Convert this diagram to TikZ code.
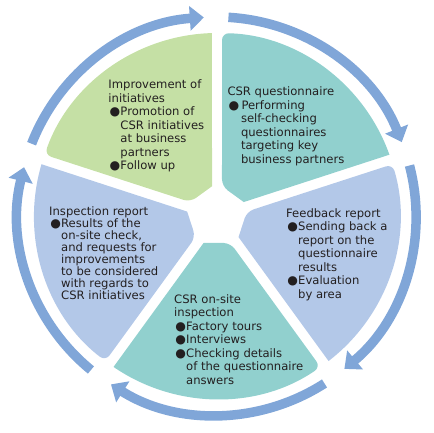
\documentclass[tikz,border=0pt]{standalone}
\usepackage{fontspec}
\setmainfont{DejaVu Sans}
\usepackage{xcolor}
\usepackage{graphicx}
\usepackage{tikz}
\usetikzlibrary{arrows.meta}
\definecolor{cycgreen}{HTML}{C5E0A5}
\definecolor{cycteal}{HTML}{91D0CE}
\definecolor{cycblue}{HTML}{B3C8E8}
\definecolor{cycarrow}{HTML}{80A6D8}
\definecolor{cyctext}{HTML}{231F20}
\newcommand{\bul}{\hspace*{2pt}\makebox[9pt][c]{\scalebox{1.05}{●}}\hspace*{1pt}}
\newcommand{\ind}{\hspace*{12pt}}

\begin{document}
\begin{tikzpicture}[x=1pt,y=1pt,
 steptext/.style={anchor=base west,inner sep=0pt,align=left,text=cyctext,
  font=\fontsize{11.6}{13.5}\selectfont},
 ringarrow/.style={cycarrow,line width=9.5pt,-{Triangle[width=24pt,length=14pt]}}]
\useasboundingbox (-217,-217) rectangle (216,216);
% five sectors, gap of 10pt between them, blunt inner ends
\foreach \ang/\col in {126/cycgreen,54/cycteal,-18/cycblue,-90/cycteal,198/cycblue}
 \fill[\col,rotate=\ang] (27,0) [rounded corners=7pt] -- (27,13.44) -- (34.43:183)
  [sharp corners] arc[start angle=34.43,end angle=-34.43,radius=183pt]
  -- (27,-13.44) [rounded corners=7pt] -- cycle;
% outer ring of arrows, clockwise
\foreach \a [evaluate=\a as \s using 158.7-\a, evaluate=\a as \e using 93.8-\a] in {0,72,144,216,288}
 \draw[ringarrow] (\s:199) arc[start angle=\s,end angle=\e,radius=199pt];
% base anchor of a multi-line node is its last line
\node[steptext] (improve) at (-108.7,46) {Improvement of\\
 initiatives\\
 \bul Promotion of\\
 \ind CSR initiatives\\
 \ind at business\\
 \ind partners\\
 \bul Follow up};
\node[steptext] (quest) at (10.3,52.7) {CSR questionnaire\\
 \bul\hspace*{2pt}Performing\\
 \ind\hspace*{1.5pt}self-checking\\
 \ind\hspace*{1.5pt}questionnaires\\
 \ind\hspace*{1.5pt}targeting key\\
 \ind\hspace*{1.5pt}business partners};
\node[steptext] (feedback) at (69,-82.3) {Feedback report\\
 \bul Sending back a\\
 \ind report on the\\
 \ind questionnaire\\
 \ind results\\
 \bul Evaluation\\
 \ind by area};
\node[steptext] (onsite) at (-43,-168) {CSR on-site\\
 inspection\\
 \bul Factory tours\\
 \bul Interviews\\
 \bul Checking details\\
 \ind of the questionnaire\\
 \ind answers};
\node[steptext,font=\fontsize{11.6}{12}\selectfont] (inspect) at (-168,-83) {Inspection report\\
 \bul Results of the\\
 \ind on-site check,\\
 \ind and requests for\\
 \ind improvements\\
 \ind to be considered\\
 \ind with regards to\\
 \ind CSR initiatives};
\end{tikzpicture}
\end{document}
